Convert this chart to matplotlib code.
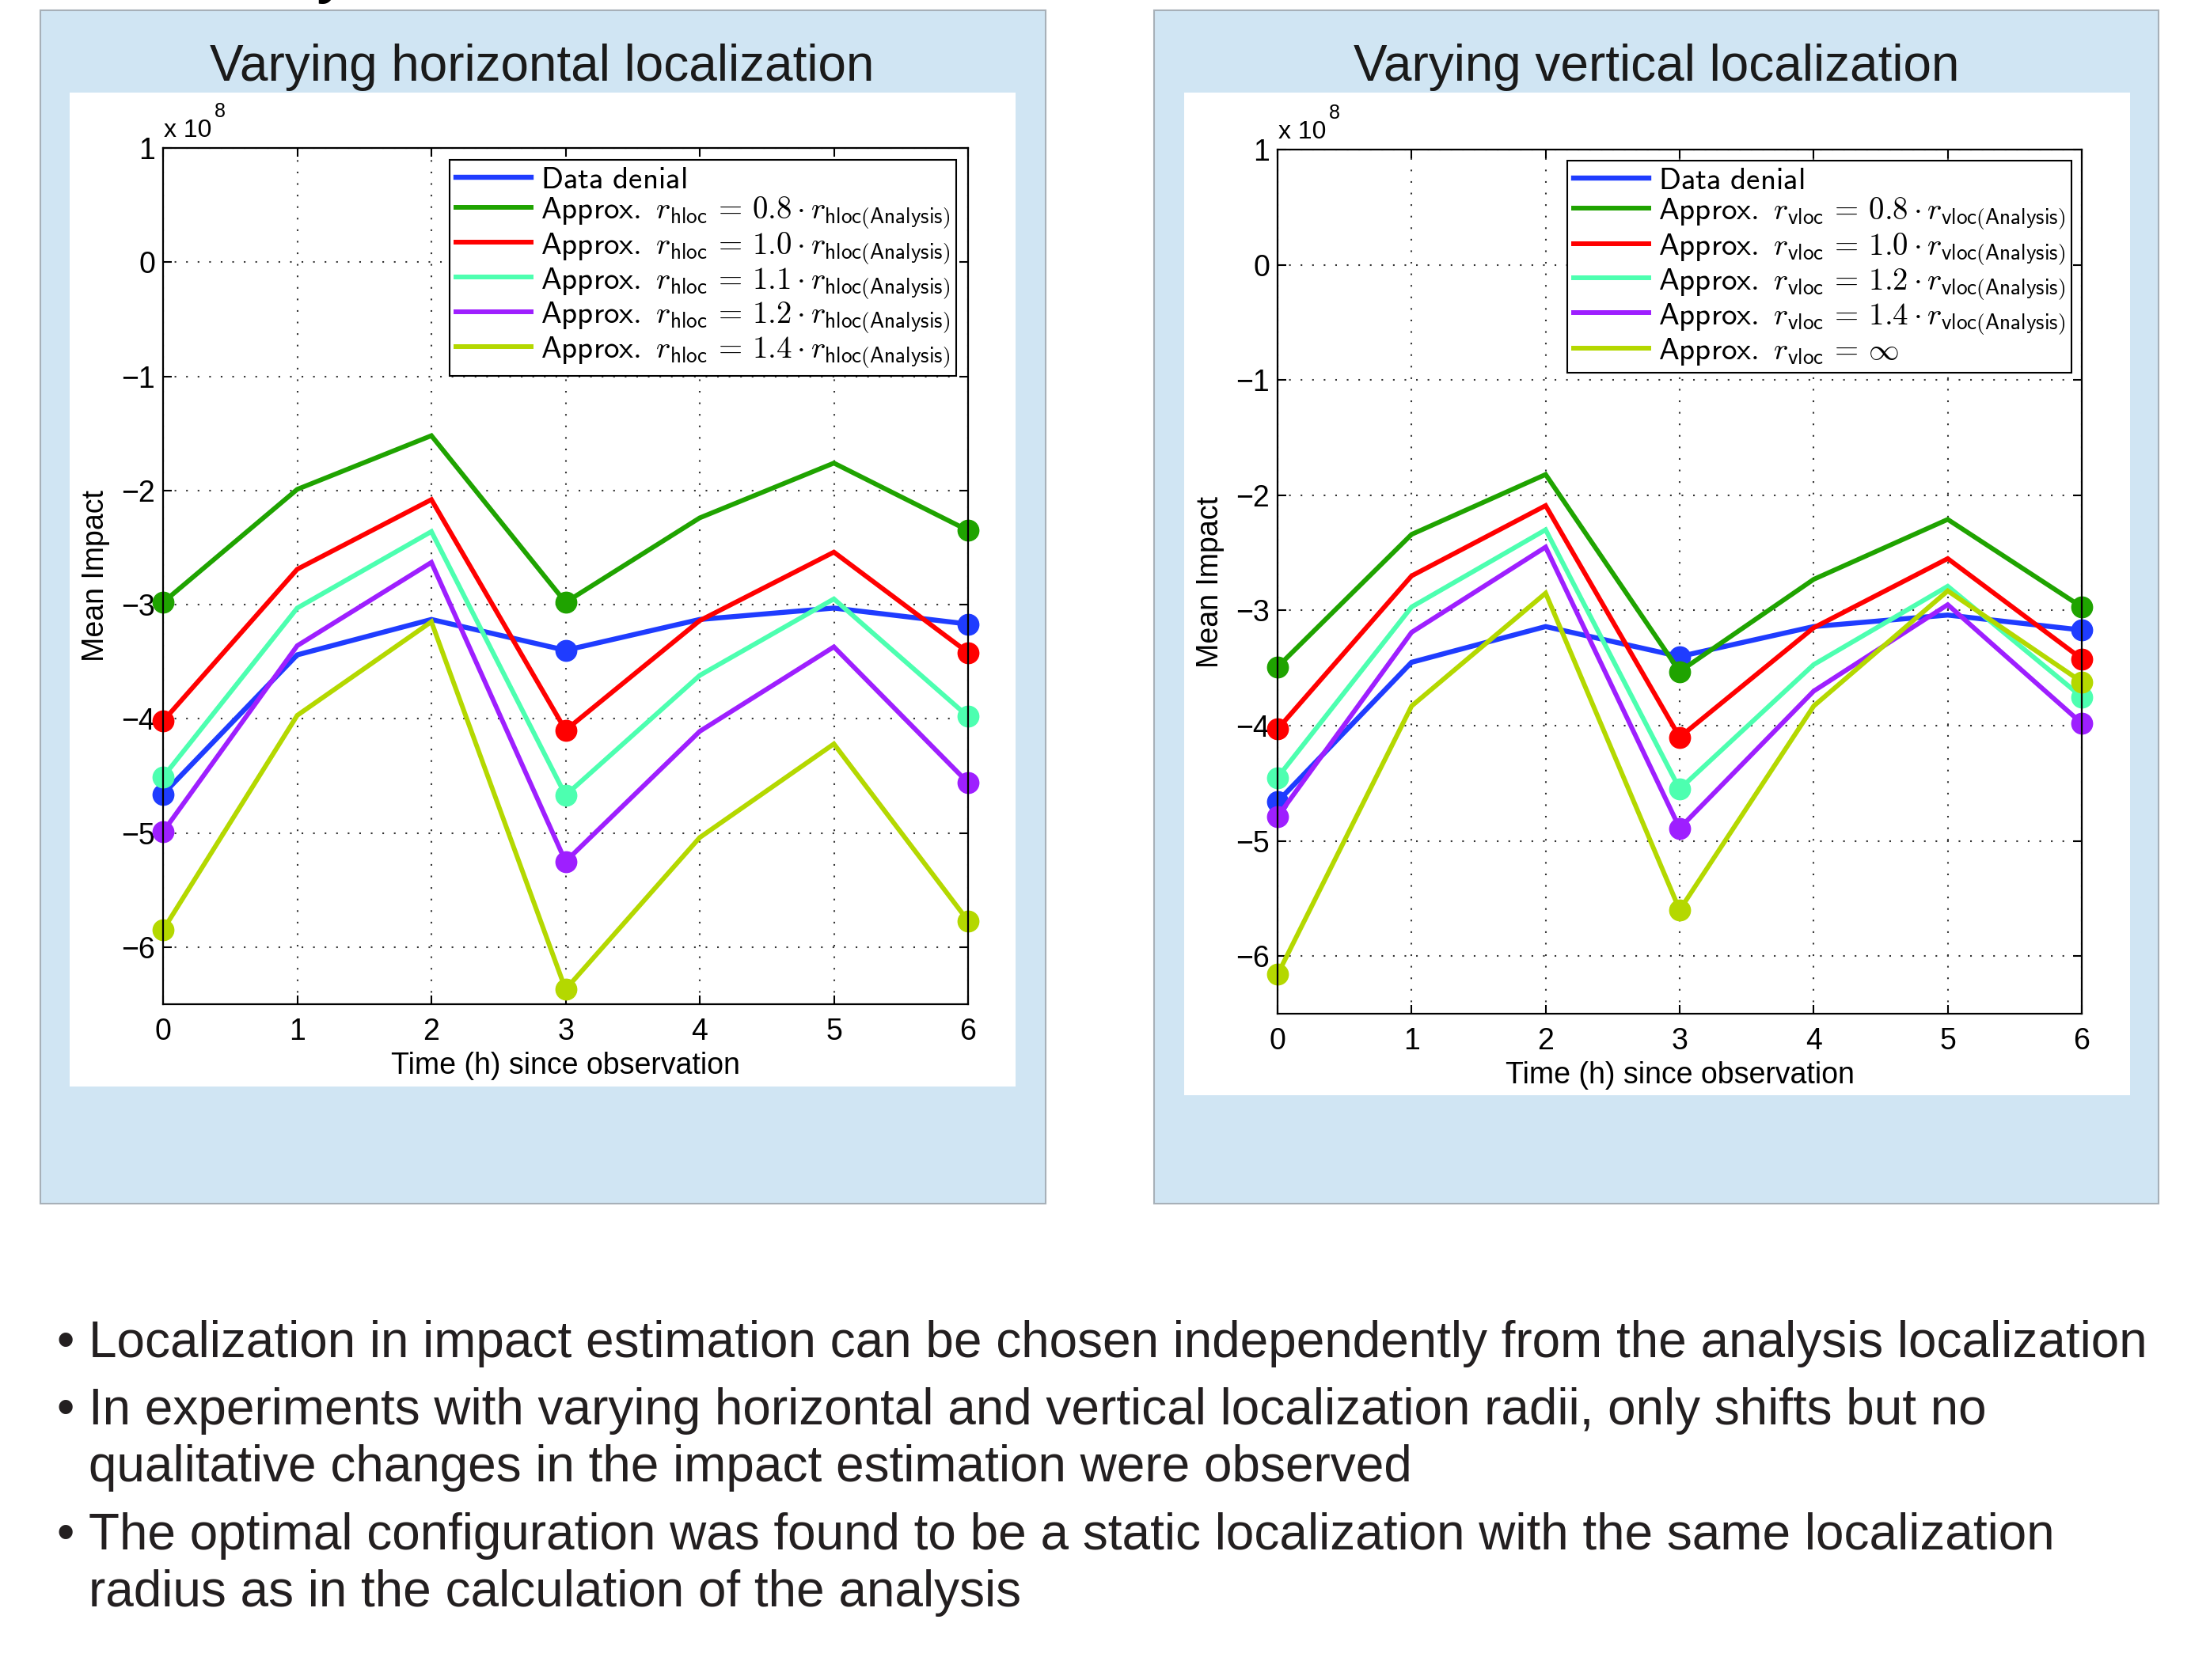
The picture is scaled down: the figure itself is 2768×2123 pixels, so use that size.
import matplotlib.pyplot as plt
from matplotlib.patches import Rectangle

plt.rcParams['font.family'] = ['Liberation Sans', 'DejaVu Sans']
plt.rcParams['mathtext.fontset'] = 'cm'

W, H = 2768, 2123

# ---------------- data (x 1e8) ----------------
hours = [0, 1, 2, 3, 4, 5, 6]

# horizontal localization
h_denial = [-4.66, -3.44, -3.13, -3.40, -3.13, -3.03, -3.17]
h_08 = [-2.98, -1.99, -1.52, -2.98, -2.24, -1.76, -2.35]
h_10 = [-4.02, -2.69, -2.08, -4.10, -3.14, -2.54, -3.42]
h_11 = [-4.51, -3.03, -2.36, -4.67, -3.62, -2.95, -3.98]
h_12 = [-4.99, -3.36, -2.63, -5.25, -4.11, -3.37, -4.56]
h_14 = [-5.85, -3.97, -3.15, -6.37, -5.04, -4.22, -5.77]

# vertical localization
v_denial = [-4.66, -3.45, -3.14, -3.40, -3.14, -3.04, -3.17]
v_08 = [-3.49, -2.34, -1.82, -3.53, -2.73, -2.21, -2.97]
v_10 = [-4.03, -2.70, -2.09, -4.10, -3.15, -2.55, -3.42]
v_12 = [-4.45, -2.97, -2.30, -4.55, -3.47, -2.79, -3.75]
v_14 = [-4.79, -3.19, -2.45, -4.89, -3.70, -2.95, -3.98]
v_inf = [-6.16, -3.83, -2.85, -5.60, -3.83, -2.83, -3.62]

colors = ['#1f3cff', '#1fa300', '#ff0000', '#4dffb0', '#9e1fff', '#b4d800']

h_labels = [r'$\mathsf{Data\ denial}$',
            r'$\mathsf{Approx.}\ r_{\mathsf{hloc}}\,=\,0.8 \cdot r_{\mathsf{hloc(Analysis)}}$',
            r'$\mathsf{Approx.}\ r_{\mathsf{hloc}}\,=\,1.0 \cdot r_{\mathsf{hloc(Analysis)}}$',
            r'$\mathsf{Approx.}\ r_{\mathsf{hloc}}\,=\,1.1 \cdot r_{\mathsf{hloc(Analysis)}}$',
            r'$\mathsf{Approx.}\ r_{\mathsf{hloc}}\,=\,1.2 \cdot r_{\mathsf{hloc(Analysis)}}$',
            r'$\mathsf{Approx.}\ r_{\mathsf{hloc}}\,=\,1.4 \cdot r_{\mathsf{hloc(Analysis)}}$']
v_labels = [r'$\mathsf{Data\ denial}$',
            r'$\mathsf{Approx.}\ r_{\mathsf{vloc}}\,=\,0.8 \cdot r_{\mathsf{vloc(Analysis)}}$',
            r'$\mathsf{Approx.}\ r_{\mathsf{vloc}}\,=\,1.0 \cdot r_{\mathsf{vloc(Analysis)}}$',
            r'$\mathsf{Approx.}\ r_{\mathsf{vloc}}\,=\,1.2 \cdot r_{\mathsf{vloc(Analysis)}}$',
            r'$\mathsf{Approx.}\ r_{\mathsf{vloc}}\,=\,1.4 \cdot r_{\mathsf{vloc(Analysis)}}$',
            r'$\mathsf{Approx.}\ r_{\mathsf{vloc}}\,=\,\infty$']

bullets = ["Localization in impact estimation can be chosen independently from the analysis localization",
           "In experiments with varying horizontal and vertical localization radii, only shifts but no\nqualitative changes in the impact estimation were observed",
           "The optimal configuration was found to be a static localization with the same localization\nradius as in the calculation of the analysis"]


def box(x0, y0, x1, y1):
    # pixel box (top-left origin) -> figure coords
    return [x0 / W, 1 - y1 / H, (x1 - x0) / W, (y1 - y0) / H]


fig = plt.figure(figsize=(W / 100, H / 100), dpi=100)

# slide panels
for (x0, y0, x1, y1) in [(51, 13, 1321, 1521), (1458, 13, 2727, 1521)]:
    b = box(x0, y0, x1, y1)
    fig.patches.append(Rectangle((b[0], b[1]), b[2], b[3], transform=fig.transFigure,
                                 facecolor='#d0e5f3', edgecolor='#a7b0b8', linewidth=1.5, zorder=-2))
for (x0, y0, x1, y1) in [(88, 117, 1283, 1373), (1496, 117, 2691, 1384)]:
    b = box(x0, y0, x1, y1)
    fig.patches.append(Rectangle((b[0], b[1]), b[2], b[3], transform=fig.transFigure,
                                 facecolor='white', edgecolor='none', zorder=-1))

fig.text(685 / W, 1 - 102 / H, 'Varying horizontal localization', fontsize=46,
         ha='center', va='baseline', color='#1a1a1a')
fig.text(2093 / W, 1 - 102 / H, 'Varying vertical localization', fontsize=46,
         ha='center', va='baseline', color='#1a1a1a')

# cut off slide heading
fig.text(400 / W, 1 + 12 / H, 'y', fontsize=60, ha='left', va='baseline', color='black')


def draw(rect, series, labels, leg_anchor):
    ax = fig.add_axes(box(*rect))
    for i, (ys, lab) in enumerate(zip(series, labels)):
        ax.plot(hours, ys, color=colors[i], lw=4.6 if i == 0 else 4.3, label=lab,
                marker='o', markevery=[0, 3, 6], markersize=19, solid_joinstyle='miter',
                clip_on=False)
    ax.set_xlim(0, 6)
    ax.set_ylim(-6.5, 1)
    ax.set_xticks(hours)
    ax.set_yticks([-6, -5, -4, -3, -2, -1, 0, 1])
    ax.set_yticklabels(['\u22126', '\u22125', '\u22124', '\u22123', '\u22122', '\u22121', '0', '1'])
    ax.grid(True, color='#333333', linestyle=(0, (1, 6)), linewidth=1.5)
    ax.tick_params(direction='in', length=8, width=1.5, labelsize=27, top=True, right=True)
    ax.tick_params(axis='x', pad=12)
    ax.tick_params(axis='y', pad=7)
    for s in ax.spines.values():
        s.set_linewidth(1.6)
    ax.set_xlabel('Time (h) since observation', fontsize=27, labelpad=5)
    ax.set_ylabel('Mean Impact', fontsize=27)
    ax.yaxis.set_label_coords(-0.066, 0.5)
    ax.text(0.001, 1.013, 'x 10', transform=ax.transAxes, fontsize=23, ha='left', va='baseline')
    ax.text(0.064, 1.036, '8', transform=ax.transAxes, fontsize=18, ha='left', va='baseline')
    leg = ax.legend(loc='upper right', bbox_to_anchor=leg_anchor, borderaxespad=0,
                    fontsize=28, fancybox=False, framealpha=1, edgecolor='black',
                    handlelength=2.45, handletextpad=0.3, labelspacing=0.0,
                    borderpad=0.2)
    leg.get_frame().set_linewidth(1.5)
    for ln in leg.get_lines():
        ln.set_marker('')
    return ax


draw((206, 187, 1223, 1269), [h_denial, h_08, h_10, h_11, h_12, h_14], h_labels, (0.9853, 0.9861))
draw((1614, 189, 2630, 1281), [v_denial, v_08, v_10, v_12, v_14, v_inf], v_labels, (0.987, 0.987))

# bullet points
bullet_y = [1715, 1800, 1958]
for txt, yb in zip(bullets, bullet_y):
    fig.text(71 / W, 1 - yb / H, '\u2022', fontsize=46, ha='left', va='baseline', color='#231f20')
    fig.text(112 / W, 1 - yb / H, txt.split('\n')[0], fontsize=46, ha='left', va='baseline', color='#231f20')
    if '\n' in txt:
        fig.text(112 / W, 1 - (yb + 72) / H, txt.split('\n')[1], fontsize=46, ha='left',
                 va='baseline', color='#231f20')

fig.savefig('out.png', dpi=100)
